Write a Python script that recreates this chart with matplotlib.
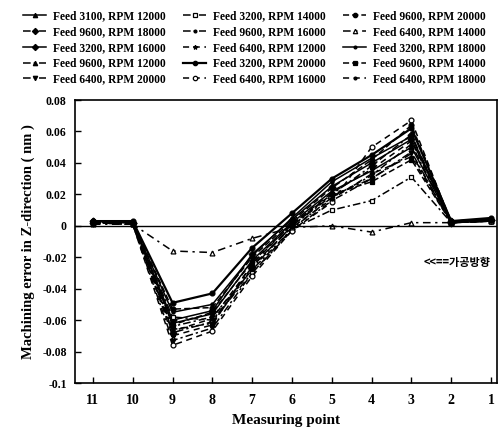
import matplotlib
matplotlib.use("Agg")
import matplotlib.pyplot as plt

# --- DADOS ---
pontos = [11, 10, 9, 8, 7, 6, 5, 4, 3, 2, 1]

# ordem por coluna da legenda (3 colunas x 5 linhas)
rotulos = [
    "Feed 3100, RPM 12000",
    "Feed 9600, RPM 18000",
    "Feed 3200, RPM 16000",
    "Feed 9600, RPM 12000",
    "Feed 6400, RPM 20000",
    "Feed 3200, RPM 14000",
    "Feed 9600, RPM 16000",
    "Feed 6400, RPM 12000",
    "Feed 3200, RPM 20000",
    "Feed 6400, RPM 16000",
    "Feed 9600, RPM 20000",
    "Feed 6400, RPM 14000",
    "Feed 3200, RPM 18000",
    "Feed 9600, RPM 14000",
    "Feed 6400, RPM 18000",
]

f3100_r12000 = [0.003, 0.002, -0.062, -0.056, -0.022, 0.002, 0.022, 0.035, 0.050, 0.003, 0.004]
f9600_r18000 = [0.002, 0.002, -0.068, -0.061, -0.026, 0.000, 0.020, 0.038, 0.058, 0.002, 0.004]
f3200_r16000 = [0.003, 0.002, -0.060, -0.054, -0.018, 0.004, 0.025, 0.040, 0.055, 0.003, 0.004]
f9600_r12000 = [0.002, 0.001, -0.064, -0.058, -0.028, -0.002, 0.018, 0.032, 0.052, 0.002, 0.003]
f6400_r20000 = [0.002, 0.001, -0.073, -0.065, -0.030, -0.003, 0.016, 0.030, 0.046, 0.002, 0.003]
f3200_r14000 = [0.002, 0.002, -0.058, -0.060, -0.030, -0.002, 0.010, 0.016, 0.031, 0.002, 0.003]
f9600_r16000 = [0.002, 0.001, -0.066, -0.062, -0.027, 0.000, 0.019, 0.030, 0.047, 0.002, 0.003]
f6400_r12000 = [0.003, 0.002, -0.070, -0.063, -0.024, 0.001, 0.021, 0.036, 0.054, 0.003, 0.004]
f3200_r20000 = [0.003, 0.003, -0.049, -0.043, -0.014, 0.008, 0.030, 0.045, 0.062, 0.003, 0.005]
f6400_r16000 = [0.002, 0.001, -0.076, -0.067, -0.032, -0.003, 0.015, 0.050, 0.067, 0.002, 0.003]
f9600_r20000 = [0.003, 0.002, -0.053, -0.052, -0.020, 0.003, 0.024, 0.042, 0.064, 0.003, 0.004]
f6400_r14000 = [0.001, 0.001, -0.016, -0.017, -0.008, -0.001, 0.000, -0.004, 0.002, 0.002, 0.003]
f3200_r18000 = [0.003, 0.002, -0.055, -0.050, -0.019, 0.005, 0.028, 0.043, 0.057, 0.003, 0.004]
f9600_r14000 = [0.002, 0.002, -0.063, -0.055, -0.023, 0.001, 0.020, 0.028, 0.042, 0.002, 0.004]
f6400_r18000 = [0.002, 0.001, -0.067, -0.059, -0.025, -0.001, 0.017, 0.033, 0.044, 0.002, 0.003]

series = [f3100_r12000, f9600_r18000, f3200_r16000, f9600_r12000, f6400_r20000,
          f3200_r14000, f9600_r16000, f6400_r12000, f3200_r20000, f6400_r16000,
          f9600_r20000, f6400_r14000, f3200_r18000, f9600_r14000, f6400_r18000]

yticks = [0.08, 0.06, 0.04, 0.02, 0, -0.02, -0.04, -0.06, -0.08, -0.1]
ytick_labels = ["0.08", "0.06", "0.04", "0.02", "0", "-0.02", "-0.04", "-0.06", "-0.08", "-0.1"]
# --------------------

# estilos (linha, marcador, preenchido?)
dd = (0, (5, 2, 1.5, 2))
estilos = [
    ("-", "^", True),
    (dd, "D", True),
    ("-", "D", True),
    (dd, "^", True),
    (dd, "v", True),
    (dd, "s", False),
    (dd, ".", True),
    ((0, (4, 3)), "*", True),
    ("-", "o", True),
    ((0, (4, 3)), "o", False),
    ((0, (4, 2)), "o", True),
    ((0, (5, 3, 1.5, 3)), "^", False),
    ("-", ".", True),
    ((0, (4, 2)), "s", True),
    ((0, (4, 3)), ".", True),
]

plt.rcParams["font.family"] = ["Liberation Serif", "DejaVu Serif"]
plt.rcParams["font.weight"] = "bold"

fig = plt.figure(figsize=(5.0, 4.32), dpi=100)
ax = fig.add_axes([0.15, 0.1134, 0.844, 0.655])

linhas = []
for vals, rot, (ls, mk, cheio) in zip(series, rotulos, estilos):
    lw = 1.6 if rot == "Feed 3200, RPM 20000" else 1.1
    ln, = ax.plot(pontos, vals, linestyle=ls, marker=mk, color="black", linewidth=lw,
                  markersize=3.5 if mk != "." else 4.5,
                  markerfacecolor="black" if cheio else "white",
                  markeredgecolor="black", markeredgewidth=0.9, label=rot)
    linhas.append(ln)

ax.axhline(0, color="black", linewidth=1.0)

ax.set_xlim(11.45, 0.85)
ax.set_ylim(-0.1, 0.08)
ax.set_xticks(pontos)
ax.set_xticklabels([str(p) for p in pontos], fontsize=10, fontweight="bold")
ax.set_yticks(yticks)
ax.set_yticklabels(ytick_labels, fontsize=8.5, fontweight="bold")
ax.tick_params(direction="in", length=4, width=1, pad=6)
ax.tick_params(axis="x", pad=8)
for sp in ax.spines.values():
    sp.set_linewidth(1.2)

ax.set_xlabel("Measuring point", fontsize=11, fontweight="bold", labelpad=5)
ax.set_ylabel("Machining error in Z-direction ( nm )", fontsize=10.5, fontweight="bold", labelpad=5)

ax.text(1.85, -0.0235, "<<==가공방향", ha="center", va="center", fontsize=8,
        family=["Noto Sans CJK KR", "DejaVu Sans"], fontweight="bold")

fig.legend(handles=linhas, ncol=3, loc="upper left", bbox_to_anchor=(0.03, 0.995),
           frameon=False, fontsize=8.3, handlelength=2.0, handletextpad=0.6,
           columnspacing=1.5, labelspacing=0.33, borderaxespad=0.3, markerscale=0.9)

plt.savefig("out.png", dpi=100)
plt.close(fig)
